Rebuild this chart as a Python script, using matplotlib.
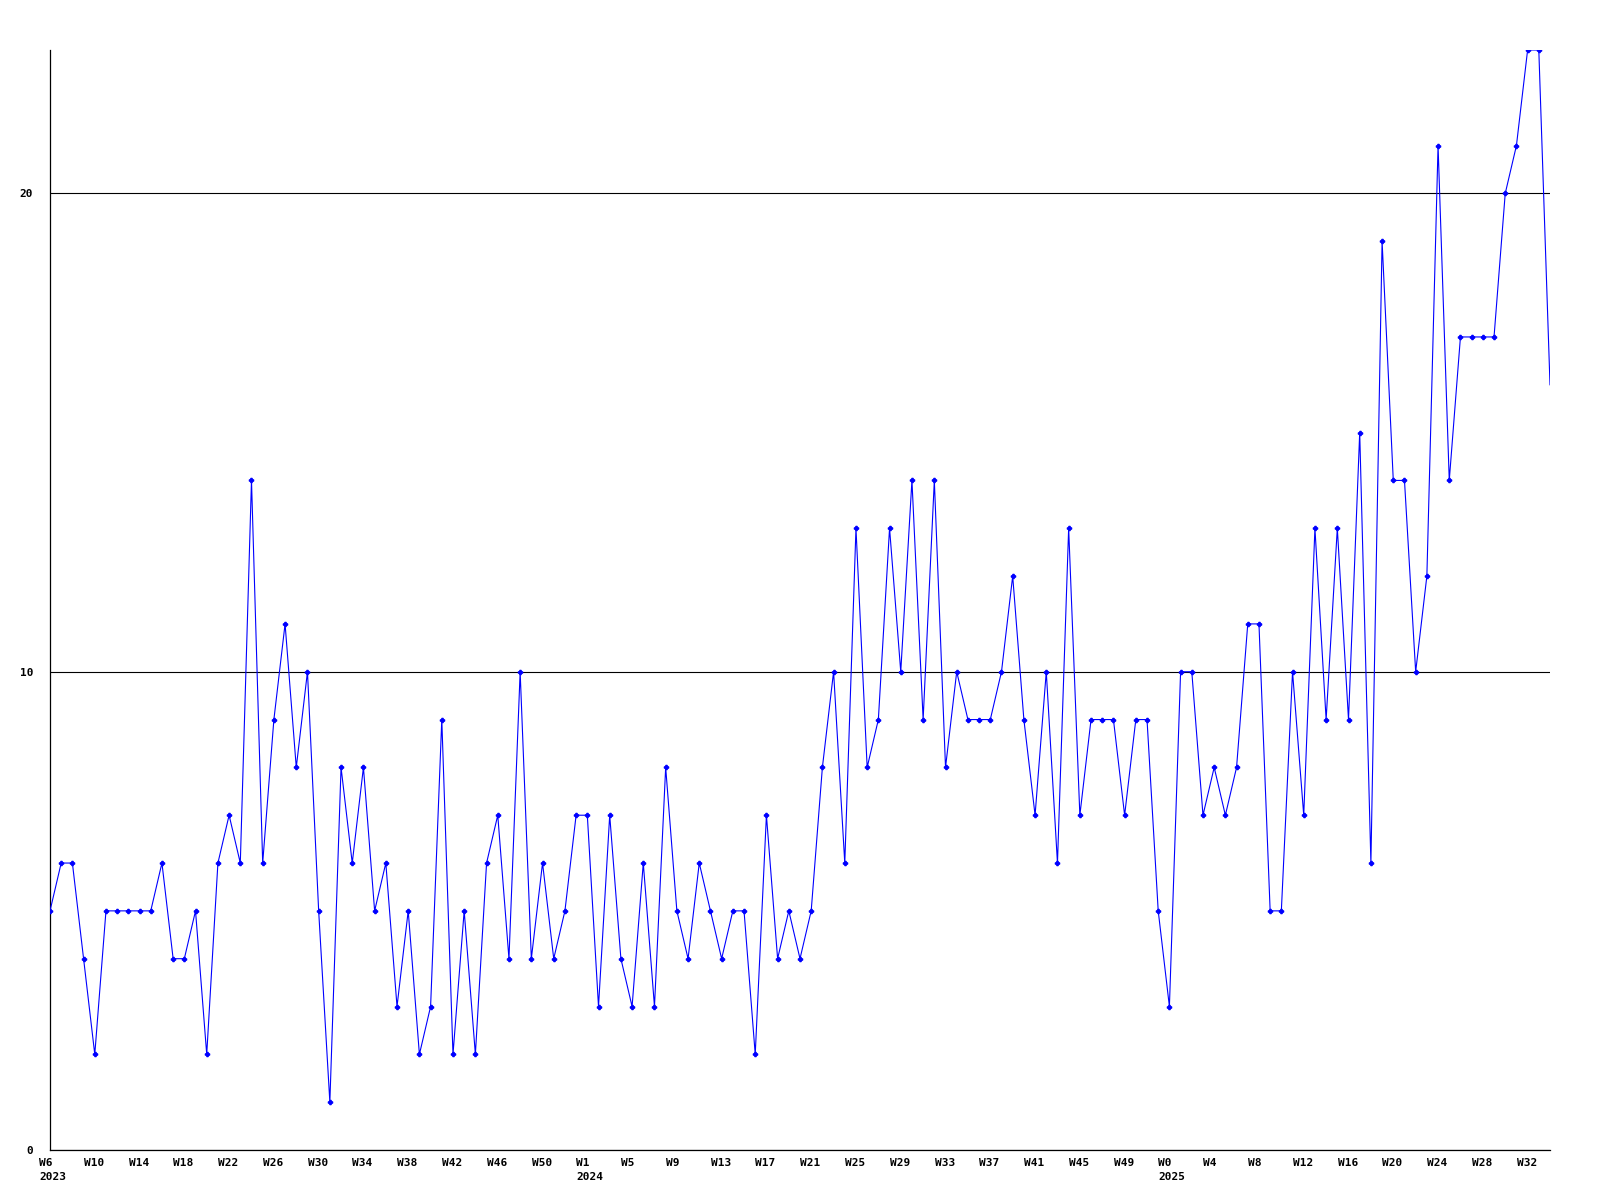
import matplotlib
matplotlib.use('Agg')
import matplotlib.pyplot as plt
import numpy as np

# weekly counts, 2023 W6 .. 2025 W34
counts = [5, 6, 6, 4, 2, 5, 5, 5, 5, 5,
          6, 4, 4, 5, 2, 6, 7, 6, 14, 6,
          9, 11, 8, 10, 5, 1, 8, 6, 8, 5,
          6, 3, 5, 2, 3, 9, 2, 5, 2, 6,
          7, 4, 10, 4, 6, 4, 5, 7, 7, 3,
          7, 4, 3, 6, 3, 8, 5, 4, 6, 5,
          4, 5, 5, 2, 7, 4, 5, 4, 5, 8,
          10, 6, 13, 8, 9, 13, 10, 14, 9, 14,
          8, 10, 9, 9, 9, 10, 12, 9, 7, 10,
          6, 13, 7, 9, 9, 9, 7, 9, 9, 5,
          3, 10, 10, 7, 8, 7, 8, 11, 11, 5,
          5, 10, 7, 13, 9, 13, 9, 15, 6, 19,
          14, 14, 10, 12, 21, 14, 17, 17, 17, 17,
          20, 21, 23, 23, 16]

week_labels = ['W6', 'W10', 'W14', 'W18', 'W22', 'W26', 'W30', 'W34', 'W38', 'W42', 'W46', 'W50',
               'W1', 'W5', 'W9', 'W13', 'W17', 'W21', 'W25', 'W29', 'W33', 'W37', 'W41', 'W45', 'W49',
               'W0', 'W4', 'W8', 'W12', 'W16', 'W20', 'W24', 'W28', 'W32']
label_step = 4
year_labels = {0: '2023', 48: '2024', 100: '2025'}
y_ticks = [0, 10, 20]

font = dict(family='DejaVu Sans Mono', weight='bold', size=8)

fig = plt.figure(figsize=(16, 12), dpi=100)
ax = fig.add_axes([50 / 1600, 50 / 1200, 1500 / 1600, 1100 / 1200])

x = np.arange(len(counts))
# last point sits on the right edge, no marker there
ax.plot(x, counts, color='#0000ff', lw=0.8, marker='P', ms=3,
        markevery=list(range(len(counts) - 1)), zorder=3)

ax.set_xlim(0, len(counts) - 1)
ax.set_ylim(0, 23)

for s in ['top', 'right']:
    ax.spines[s].set_visible(False)
for s in ['left', 'bottom']:
    ax.spines[s].set_linewidth(0.9)
    ax.spines[s].set_color('black')

ax.set_yticks(y_ticks)
ax.set_yticklabels([str(v) for v in y_ticks], fontdict=font)
ax.tick_params(axis='y', length=0, pad=12)
ax.grid(axis='y', color='black', lw=0.8)
ax.set_axisbelow(True)

ax.set_xticks([])
for i, lab in enumerate(week_labels):
    pos = i * label_step
    ax.annotate(lab, xy=(pos, 0), xycoords=('data', 'axes fraction'),
                xytext=(-11, -8), textcoords='offset pixels',
                ha='left', va='top', annotation_clip=False, **font)
    if pos in year_labels:
        ax.annotate(year_labels[pos], xy=(pos, 0), xycoords=('data', 'axes fraction'),
                    xytext=(-11, -22), textcoords='offset pixels',
                    ha='left', va='top', annotation_clip=False, **font)

fig.savefig('out.png', dpi=100)
